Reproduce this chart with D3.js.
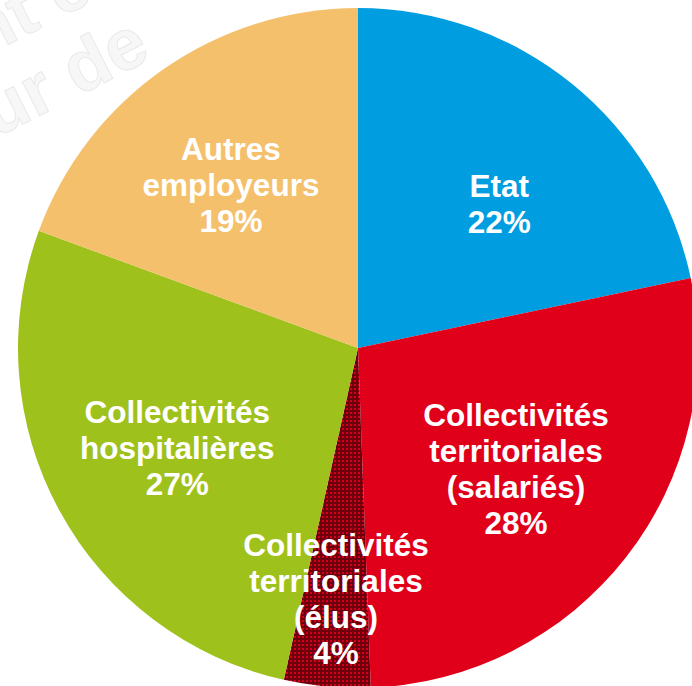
<!DOCTYPE html>
<html>
<head>
<meta charset="utf-8">
<script src="https://cdn.jsdelivr.net/npm/d3@7"></script>
<style>
  html, body { margin: 0; padding: 0; background: #ffffff; overflow: hidden; }
  svg { display: block; }
</style>
</head>
<body>
<svg id="chart" width="692" height="686"></svg>
<script>
// ---- Data ----
const categories = ["Etat", "Collectivités territoriales (salariés)", "Collectivités territoriales (élus)", "Collectivités hospitalières", "Autres employeurs"];
const shares = [21.7, 27.7, 4.1, 27.1, 19.4];
const shareLabels = ["22%", "28%", "4%", "27%", "19%"];
const labelLines = [
  ["Etat"],
  ["Collectivités", "territoriales", "(salariés)"],
  ["Collectivités", "territoriales", "(élus)"],
  ["Collectivités", "hospitalières"],
  ["Autres", "employeurs"]
];
const watermarkLines = ["nt c", "ur de"];

// ---- Styles / layout ----
const W = 692, H = 686;
const cx = 358, cy = 348, R = 340;
const colors = ["#009de0", "#e0001a", "url(#dots)", "#9fc11b", "#f5c06c"];
// label anchor: polar (angle in degrees clockwise from top, radius) for mean baseline
const labelPlace = [
  {a: 46.7, r: 194},
  {a: 129.9, r: 206},
  {a: 184.8, r: 263},
  {a: 238.5, r: 212},
  {a: 320.1, r: 198}
];
const lineH = 36;

const svg = d3.select("#chart");
const defs = svg.append("defs");
const pat = defs.append("pattern").attr("id", "dots")
  .attr("patternUnits", "userSpaceOnUse").attr("width", 4).attr("height", 4);
pat.append("rect").attr("width", 4).attr("height", 4).attr("fill", "#6e000e");
pat.append("rect").attr("width", 2).attr("height", 2).attr("fill", "#d2001a");

// faint watermark (partly hidden behind the pie, as in the reference)
const wmPos = [[-18, 58], [-4, 138]];
const wm = svg.append("g")
  .attr("font-family", "Liberation Sans, Arial, sans-serif")
  .attr("font-weight", "bold").attr("font-size", 72)
  .attr("fill", "#f7f7f7").attr("stroke", "#e9e9e9").attr("stroke-width", 1);
watermarkLines.forEach((t, i) => {
  wm.append("text")
    .attr("transform", `translate(${wmPos[i][0]},${wmPos[i][1]}) rotate(-27)`)
    .text(t);
});

const pie = d3.pie().sort(null).value(d => d)(shares);
const arc = d3.arc().innerRadius(0).outerRadius(R);

const g = svg.append("g").attr("transform", `translate(${cx},${cy})`);
g.selectAll("path.slice").data(pie).join("path")
  .attr("class", "slice")
  .attr("d", arc)
  .attr("fill", (d, i) => colors[i]);

// labels
const lg = g.append("g")
  .attr("font-family", "Liberation Sans, Arial, Helvetica, sans-serif")
  .attr("font-weight", "bold")
  .attr("font-size", 31.5)
  .attr("fill", "#ffffff")
  .attr("text-anchor", "middle");

categories.forEach((c, i) => {
  const lines = labelLines[i].concat([shareLabels[i]]);
  const p = labelPlace[i];
  const ang = p.a * Math.PI / 180;
  const x = p.r * Math.sin(ang);
  const y = -p.r * Math.cos(ang);
  const first = y - (lines.length - 1) / 2 * lineH;
  const t = lg.append("text");
  lines.forEach((ln, k) => {
    t.append("tspan").attr("x", x).attr("y", first + k * lineH).text(ln);
  });
});
</script>
</body>
</html>
